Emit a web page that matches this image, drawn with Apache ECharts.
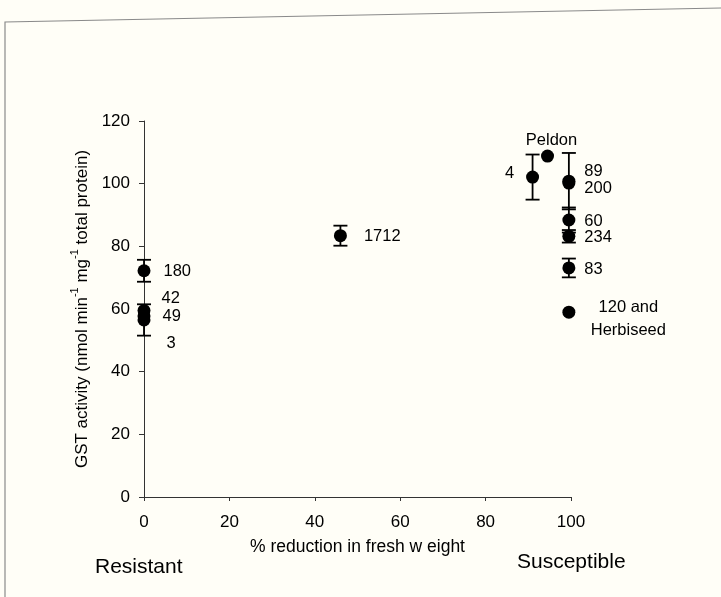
<!DOCTYPE html>
<html>
<head>
<meta charset="utf-8">
<script src="https://cdn.jsdelivr.net/npm/echarts@6/dist/echarts.min.js"></script>
<style>
  html, body { margin: 0; padding: 0; background: #fffef7; }
  #chart { width: 721px; height: 597px; }
</style>
</head>
<body>
<div id="chart"></div>
<script>
// Wheat lines: GST activity against sensitivity (fresh-weight reduction)
const lines = ['180', '42', '49', '3', '1712', 'Peldon', '4', '89', '200', '60', '234', '83', '120 and\nHerbiseed'];
const reduction = [0, 0, 0, 0, 46, 94.5, 91, 99.5, 99.5, 99.5, 99.5, 99.5, 99.5];
const gst = [72.2, 59.5, 57.8, 56.5, 83.4, 108.8, 102.1, 100.8, 100.2, 88.4, 83.2, 73.1, 59];
const sem = [3.5, 0, 0, 5, 3.2, 0, 7.2, 9, 0, 4, 2, 3, 0];

const xTicks = [0, 20, 40, 60, 80, 100];
const yTicks = [0, 20, 40, 60, 80, 100, 120];

// where each line's name sits relative to its marker
const labelPlacement = {
  '180': { position: 'right', distance: 13, offset: [0, 1] },
  '42': { position: 'right', distance: 11, offset: [0, -12] },
  '49': { position: 'right', distance: 12, offset: [0, 1] },
  '3': { position: 'right', distance: 16, offset: [0, 23] },
  '1712': { position: 'right', distance: 17, offset: [0, 1] },
  'Peldon': { position: 'top', distance: 0, offset: [4, 2] },
  '4': { position: 'left', distance: 12, offset: [0, -4] },
  '89': { position: 'right', distance: 9, offset: [0, -10] },
  '200': { position: 'right', distance: 9, offset: [0, 5] },
  '60': { position: 'right', distance: 9, offset: [0, 1] },
  '234': { position: 'right', distance: 9, offset: [0, 1] },
  '83': { position: 'right', distance: 9, offset: [0, 1] },
  '120 and\nHerbiseed': { position: 'right', distance: 6, offset: [47, 7], align: 'center' }
};

const FONT = 'Liberation Sans, Arial, sans-serif';
const INK = '#000';

const points = lines.map((name, i) => {
  const p = labelPlacement[name];
  return {
    name: name,
    value: [reduction[i], gst[i]],
    label: {
      show: true,
      formatter: '{b}',
      position: p.position,
      distance: p.distance,
      offset: p.offset,
      align: p.align,
      color: INK,
      fontSize: 16.5,
      lineHeight: 23,
      fontFamily: FONT
    }
  };
});

const errData = lines.map((name, i) => [reduction[i], gst[i], sem[i]]);

const chart = echarts.init(document.getElementById('chart'), null, { renderer: 'canvas' });

const axisCommonX = {
  type: 'value', min: 0, max: 100, interval: 20, splitLine: { show: false }
};
const axisCommonY = {
  type: 'value', min: 0, max: 120, interval: 20, splitLine: { show: false }
};

chart.setOption({
  backgroundColor: '#fffef7',
  animation: false,
  grid: { left: 144, right: 150, top: 121, bottom: 100 },
  xAxis: [
    Object.assign({}, axisCommonX, {
      name: '% reduction in fresh w eight',
      nameLocation: 'middle',
      nameGap: 41,
      nameTextStyle: { color: INK, fontSize: 17.5, fontFamily: FONT },
      axisLine: { show: true, lineStyle: { color: '#333', width: 1 } },
      axisTick: { show: true, length: 4, lineStyle: { color: '#333' } },
      axisLabel: {
        color: INK, fontSize: 17, fontFamily: FONT, margin: 17,
        formatter: v => (xTicks.includes(v) ? String(v) : '')
      }
    }),
    Object.assign({}, axisCommonX, {
      axisLine: { show: false },
      axisTick: { show: true, inside: true, length: 4, lineStyle: { color: '#333' } },
      axisLabel: { show: false }
    })
  ],
  yAxis: [
    Object.assign({}, axisCommonY, {
      name: '{a|GST activity (nmol min}{s|-1}{a| mg}{s|-1}{a| total protein)}',
      nameLocation: 'middle',
      nameGap: 49,
      nameRotate: 90,
      nameTextStyle: {
        rich: {
          a: { color: INK, fontSize: 17, fontFamily: FONT, lineHeight: 21, verticalAlign: 'bottom' },
          s: { color: INK, fontSize: 11, fontFamily: FONT, lineHeight: 21, verticalAlign: 'top' }
        }
      },
      axisLine: { show: true, lineStyle: { color: '#333', width: 1 } },
      axisTick: { show: true, length: 5, lineStyle: { color: '#333' } },
      axisLabel: {
        color: INK, fontSize: 17, fontFamily: FONT, margin: 14,
        formatter: v => (yTicks.includes(v) ? String(v) : '')
      }
    }),
    Object.assign({}, axisCommonY, {
      axisLine: { show: false },
      axisTick: { show: true, inside: true, length: 3, lineStyle: { color: '#333' } },
      axisLabel: { show: false }
    })
  ],
  graphic: [
    {
      type: 'polyline',
      shape: { points: [[5, 597], [5, 22], [721, 8]] },
      style: { stroke: '#8a8a8a', lineWidth: 1.2, fill: null }
    },
    {
      type: 'text', left: 95, top: 557,
      style: { text: 'Resistant', fill: INK, fontSize: 21, fontFamily: FONT }
    },
    {
      type: 'text', left: 517, top: 552,
      style: { text: 'Susceptible', fill: INK, fontSize: 21, fontFamily: FONT }
    }
  ],
  series: [
    {
      type: 'custom',
      xAxisIndex: 0,
      yAxisIndex: 0,
      data: errData,
      renderItem: function (params, api) {
        const x = api.value(0), y = api.value(1), e = api.value(2);
        if (!e) return null;
        const top = api.coord([x, y + e]);
        const bot = api.coord([x, y - e]);
        const hw = 7;
        const st = { stroke: '#000', lineWidth: 1.8 };
        return {
          type: 'group',
          children: [
            { type: 'line', shape: { x1: top[0], y1: top[1], x2: bot[0], y2: bot[1] }, style: st },
            { type: 'line', shape: { x1: top[0] - hw, y1: top[1], x2: top[0] + hw, y2: top[1] }, style: st },
            { type: 'line', shape: { x1: bot[0] - hw, y1: bot[1], x2: bot[0] + hw, y2: bot[1] }, style: st }
          ]
        };
      },
      z: 3
    },
    {
      type: 'scatter',
      xAxisIndex: 0,
      yAxisIndex: 0,
      symbol: 'circle',
      symbolSize: 13,
      itemStyle: { color: '#000', opacity: 1 },
      data: points,
      z: 4
    }
  ]
});
</script>
</body>
</html>
